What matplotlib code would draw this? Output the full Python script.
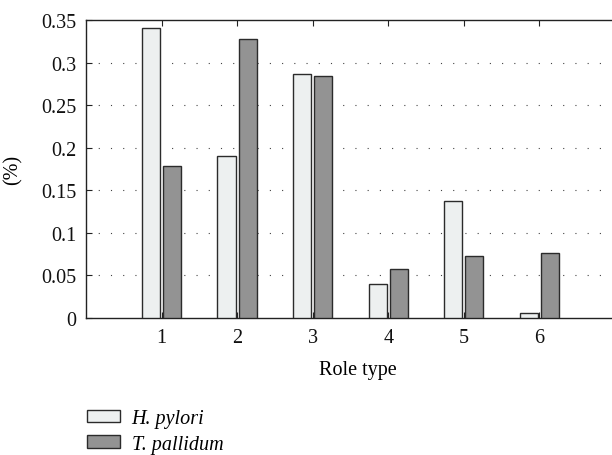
import numpy as np
import matplotlib
matplotlib.use("Agg")
import matplotlib.pyplot as plt

# role type fractions
role_types = [1, 2, 3, 4, 5, 6]
h_pylori = [0.341, 0.190, 0.286, 0.040, 0.138, 0.006]
t_pallidum = [0.179, 0.328, 0.284, 0.058, 0.073, 0.076]
yticks = [0, 0.05, 0.1, 0.15, 0.2, 0.25, 0.3, 0.35]
ytick_labels = ["0", "0.05", "0.1", "0.15", "0.2", "0.25", "0.3", "0.35"]

plt.rcParams["font.family"] = ["Liberation Serif", "DejaVu Serif"]
plt.rcParams["font.size"] = 14.5

W, H = 612, 456
fig = plt.figure(figsize=(W / 100.0, H / 100.0), dpi=100)
# axes from x=86 to x=630 (right edge runs off the picture), y=21 to 319
ax = fig.add_axes([86.0 / W, 1 - 319.0 / H, 544.0 / W, 298.0 / H])

x = np.asarray(role_types, dtype=float)
bw = 0.24
edge = "#2b2b2b"
b1 = ax.bar(x - 0.14, h_pylori, bw, color="#edf0f0", edgecolor=edge,
            linewidth=1.0, zorder=3, label="H. pylori")
b2 = ax.bar(x + 0.14, t_pallidum, bw, color="#939393", edgecolor=edge,
            linewidth=1.0, zorder=3, label="T. pallidum")

ax.set_xlim(0, 7.2)
ax.set_ylim(0, 0.35)
ax.set_xticks(role_types)
ax.set_yticks(yticks)
ax.set_yticklabels(ytick_labels)

# dotted horizontal grid behind the bars
for yv in yticks[1:-1]:
    ax.axhline(yv, color="#444444", linewidth=0.8,
               linestyle=(0, (1, 10)), zorder=1)

ax.tick_params(axis="both", direction="in", length=4, width=0.8,
               colors="#222222", labelcolor="#111111")
ax.tick_params(axis="x", top=True, pad=7)
ax.tick_params(axis="y", pad=7)
for s in ax.spines.values():
    s.set_linewidth(1.0)
    s.set_color("#222222")

ax.set_xlabel("Role type")
ax.set_ylabel("(%)")
ax.xaxis.set_label_coords((358.0 - 86.0) / 544.0, -(361.0 - 319.0) / 298.0)
ax.yaxis.set_label_coords(-(86.0 - 23.0) / 544.0, 0.5)

fig.legend([b1, b2], ["H. pylori", "T. pallidum"],
           loc="upper left", bbox_to_anchor=(87.0 / W, 1 - 410.0 / H),
           frameon=False, prop={"style": "italic", "size": 14.5},
           handlelength=1.62, handleheight=0.55, handletextpad=0.6,
           labelspacing=0.33, borderaxespad=0, borderpad=0)

fig.savefig("out.png", dpi=100)
